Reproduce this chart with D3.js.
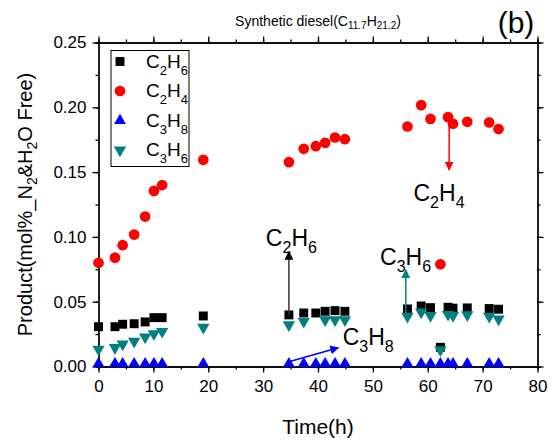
<!DOCTYPE html>
<html>
<head>
<meta charset="utf-8">
<script src="https://cdn.jsdelivr.net/npm/d3@7"></script>
<style>
	body { margin: 0; background: #fff; }
	text { font-family: Arial, "Liberation Sans", sans-serif; }
</style>
</head>
<body>
<div class="chart"></div>
<script>
// hours on stream, same for every series
var times = [0, 3, 4.4, 6.5, 8.5, 10.1, 11.6, 19.1, 34.7, 37.4, 39.6, 41.3, 43.1, 44.9,
	56.3, 58.8, 60.5, 62.3, 63.7, 64.6, 67.2, 71.2, 72.9];

var c2h6 = [0.0307, 0.0307, 0.0326, 0.033, 0.0344, 0.0377, 0.0377, 0.039, 0.0398, 0.0413, 0.0413, 0.0426, 0.0431, 0.0426,
	0.0444, 0.0467, 0.0454, 0.0148, 0.0457, 0.045, 0.0452, 0.0447, 0.0442];
var c2h4 = [0.080, 0.084, 0.0936, 0.1018, 0.1157, 0.1355, 0.140, 0.1595, 0.1577, 0.168, 0.170, 0.1726, 0.1767, 0.1754,
	0.1852, 0.2017, 0.191, 0.0789, 0.1924, 0.1873, 0.1888, 0.1883, 0.1832];
var c3h8 = [0.001, 0.001, 0.001, 0.001, 0.001, 0.001, 0.001, 0.001, 0.001, 0.001, 0.001, 0.001, 0.001, 0.001,
	0.001, 0.001, 0.001, 0.001, 0.001, 0.001, 0.001, 0.001, 0.001];
// no C3H6 point was plotted at 39.6 h
var c3h6 = [0.0145, 0.0158, 0.0184, 0.0205, 0.0238, 0.0264, 0.0282, 0.0313, 0.0333, 0.0359, null, 0.0372, 0.0372, 0.0372,
	0.0398, 0.0431, 0.0405, 0.014, 0.0413, 0.0405, 0.041, 0.0398, 0.0378];

var seriesNames = ["C_2H_6", "C_2H_4", "C_3H_8", "C_3H_6"];

var xTicks = [0, 10, 20, 30, 40, 50, 60, 70, 80];
var yTicks = [0, 0.05, 0.10, 0.15, 0.20, 0.25];

// annotation arrows [t, value] -> [t, value]
var arrowFrom = [[34.7, 0.040], [56.0, 0.0398], [34.7, 0.0037], [63.9, 0.189]];
var arrowTo = [[34.7, 0.0886], [56.0, 0.0745], [43.7, 0.0145], [63.9, 0.1517]];
var arrowLabels = ["C_2H_6", "C_3H_6", "C_3H_8", "C_2H_4"];
var labelAt = [[30.5, 0.093], [51.3, 0.0784], [44.5, 0.0166], [57.4, 0.1278]];

var colors = ["#000000", "#ff0000", "#0000ff", "#008080"];
var arrowColors = ["#000000", "#008080", "#0000ff", "#ff0000"];

var W = 555, H = 443;
var margin = {top: 42.5, right: 17.5, bottom: 76.5, left: 98.5},
	width = W - margin.left - margin.right,
	height = H - margin.top - margin.bottom;

var svg = d3.select(".chart").append("svg")
	.attr("width", W)
	.attr("height", H);

var g = svg.append("g")
	.attr("transform", "translate(" + margin.left + "," + margin.top + ")");

var x = d3.scaleLinear().domain([0, 80]).range([0, width]);
var y = d3.scaleLinear().domain([0, 0.25]).range([height, 0]);

// writes "C_2H_6" style formulas with subscripts into a text element
function formula(sel, str, size, subSize, shift) {
	var parts = str.split("_");
	sel.append("tspan").text(parts[0]);
	for (var i = 1; i < parts.length; i++) {
		sel.append("tspan")
			.attr("font-size", subSize)
			.attr("dy", shift)
			.text(parts[i].charAt(0));
		if (parts[i].length > 1) {
			sel.append("tspan")
				.attr("font-size", size)
				.attr("dy", -shift)
				.text(parts[i].slice(1));
		}
	}
}

// axes, Origin style: ticks out on all four sides
function styleAxis(a) {
	a.select(".domain").attr("stroke-width", 1.3);
	a.selectAll(".tick line").attr("stroke-width", 1.3);
	a.selectAll("text").attr("font-size", 17).attr("font-family", "Arial, 'Liberation Sans', sans-serif").attr("fill", "#000");
}

var xMinor = d3.range(0, 81, 5), yMinor = d3.range(0, 0.2501, 0.025);

g.append("g").attr("transform", "translate(0," + height + ")")
	.call(d3.axisBottom(x).tickValues(xMinor).tickSize(3).tickFormat("")).call(styleAxis);
g.append("g").attr("transform", "translate(0," + height + ")")
	.call(d3.axisBottom(x).tickValues(xTicks).tickSize(6).tickSizeOuter(0).tickPadding(7).tickFormat(d3.format("d"))).call(styleAxis);
g.append("g")
	.call(d3.axisTop(x).tickValues(xMinor).tickSize(3).tickFormat("")).call(styleAxis);
g.append("g")
	.call(d3.axisTop(x).tickValues(xTicks).tickSize(6).tickSizeOuter(0).tickFormat("")).call(styleAxis);
g.append("g")
	.call(d3.axisLeft(y).tickValues(yMinor).tickSize(3).tickFormat("")).call(styleAxis);
g.append("g")
	.call(d3.axisLeft(y).tickValues(yTicks).tickSize(6).tickSizeOuter(0).tickPadding(6).tickFormat(d3.format(".2f"))).call(styleAxis);
g.append("g").attr("transform", "translate(" + width + ",0)")
	.call(d3.axisRight(y).tickValues(yMinor).tickSize(3).tickFormat("")).call(styleAxis);
g.append("g").attr("transform", "translate(" + width + ",0)")
	.call(d3.axisRight(y).tickValues(yTicks).tickSize(6).tickSizeOuter(0).tickFormat("")).call(styleAxis);

// markers
var shapes = [d3.symbolSquare, d3.symbolCircle, d3.symbolTriangle, d3.symbolTriangle];
var sizes = [80, 90, 60, 66];
var rotate = [0, 0, 0, 180];

function markerPath(i) {
	return d3.symbol().type(shapes[i]).size(sizes[i])();
}

var allSeries = [c2h6, c2h4, c3h8, c3h6];

allSeries.forEach(function (vals, i) {
	var pts = times.map(function (t, k) { return {t: t, v: vals[k]}; })
		.filter(function (d) { return d.v != null; });
	g.append("g").selectAll("path").data(pts).enter().append("path")
		.attr("d", markerPath(i))
		.attr("fill", colors[i])
		.attr("transform", function (d) {
			var dy = i == 2 ? -1.5 : (i == 3 ? 1.5 : 0);
			return "translate(" + x(d.t) + "," + (y(d.v) + dy) + ") rotate(" + rotate[i] + ")";
		});
});

// arrows
var defs = svg.append("defs");
arrowColors.forEach(function (c, i) {
	defs.append("marker")
		.attr("id", "arr" + i)
		.attr("markerUnits", "userSpaceOnUse")
		.attr("viewBox", "0 0 10 10")
		.attr("refX", 9).attr("refY", 5)
		.attr("markerWidth", 9).attr("markerHeight", 10)
		.attr("orient", "auto")
		.append("path").attr("d", "M0,0L10,5L0,10Z").attr("fill", c);
});

arrowFrom.forEach(function (f, i) {
	g.append("line")
		.attr("x1", x(f[0])).attr("y1", y(f[1]))
		.attr("x2", x(arrowTo[i][0])).attr("y2", y(arrowTo[i][1]))
		.attr("stroke", arrowColors[i] == "#000000" ? "#333" : arrowColors[i])
		.attr("stroke-width", 1.5)
		.attr("marker-end", "url(#arr" + i + ")");
});

arrowLabels.forEach(function (s, i) {
	var t = g.append("text")
		.attr("x", x(labelAt[i][0]))
		.attr("y", y(labelAt[i][1]))
		.attr("font-size", 23)
		.attr("fill", "#000");
	formula(t, s, 23, 16, 7);
});

// legend
var legend = g.append("g").attr("transform", "translate(12.5,8)");
legend.append("rect")
	.attr("width", 78).attr("height", 116)
	.attr("fill", "#fff").attr("stroke", "#000").attr("stroke-width", 1);
seriesNames.forEach(function (s, i) {
	var cy = 11 + i * 29.5;
	legend.append("path")
		.attr("d", markerPath(i))
		.attr("fill", colors[i])
		.attr("transform", "translate(9," + cy + ") rotate(" + rotate[i] + ")");
	var t = legend.append("text")
		.attr("x", 35).attr("y", cy + 6)
		.attr("font-size", 19);
	formula(t, s, 19, 13, 7);
});

// titles
var title = svg.append("text")
	.attr("x", 318).attr("y", 26)
	.attr("text-anchor", "middle")
	.attr("font-size", 14);
title.append("tspan").text("Synthetic diesel(C");
title.append("tspan").attr("font-size", 10).attr("dy", 3).text("11.7");
title.append("tspan").attr("dy", -3).text("H");
title.append("tspan").attr("font-size", 10).attr("dy", 3).text("21.2");
title.append("tspan").attr("dy", -3).text(")");

svg.append("text")
	.attr("x", 516).attr("y", 33)
	.attr("text-anchor", "middle")
	.attr("font-size", 30)
	.text("(b)");

svg.append("text")
	.attr("x", margin.left + width / 2).attr("y", 434)
	.attr("text-anchor", "middle")
	.attr("font-size", 21)
	.text("Time(h)");

var ylab = svg.append("text")
	.attr("transform", "translate(32," + (margin.top + height / 2) + ") rotate(-90)")
	.attr("text-anchor", "middle")
	.attr("font-size", 20);
ylab.append("tspan").text("Product(mol%_N");
ylab.append("tspan").attr("font-size", 14).attr("dy", 5).text("2");
ylab.append("tspan").attr("dy", -5).text("&H");
ylab.append("tspan").attr("font-size", 14).attr("dy", 5).text("2");
ylab.append("tspan").attr("dy", -5).text("O Free)");
</script>
</body>
</html>
